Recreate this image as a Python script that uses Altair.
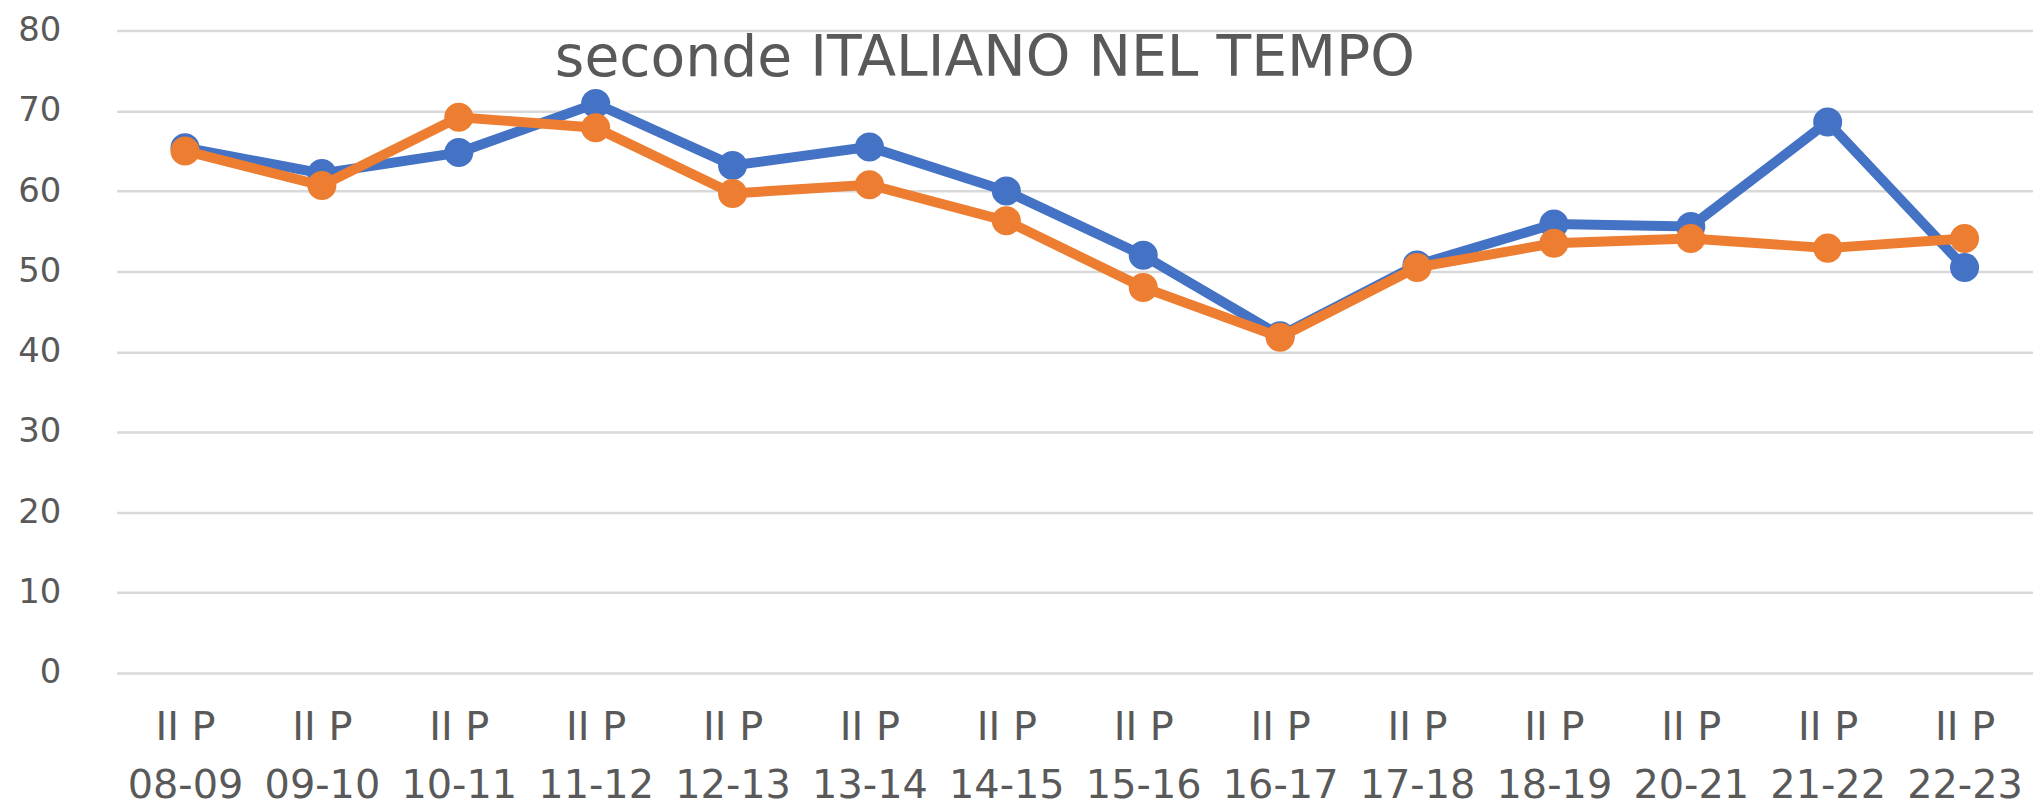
import altair as alt
import pandas as pd

# categories (two-line labels: period + school year)
periods = ["II P"] * 14
years = ["08-09", "09-10", "10-11", "11-12", "12-13", "13-14", "14-15",
         "15-16", "16-17", "17-18", "18-19", "20-21", "21-22", "22-23"]
categories = [f"{p} {y}" for p, y in zip(periods, years)]

# series values
blue_values = [65.4, 62.2, 64.8, 70.9, 63.2, 65.5, 60.0, 52.0, 42.0, 50.8, 55.9, 55.6, 68.6, 50.5]
orange_values = [65.0, 60.7, 69.2, 67.9, 59.7, 60.8, 56.3, 48.0, 41.8, 50.5, 53.5, 54.1, 52.9, 54.1]
series_names = ["Serie1", "Serie2"]
series_colors = ["#4472C4", "#ED7D31"]
y_ticks = [0, 10, 20, 30, 40, 50, 60, 70, 80]

rows = []
for s, vals in zip(series_names, [blue_values, orange_values]):
    for c, v in zip(categories, vals):
        rows.append({"cat": c, "val": v, "series": s})
df = pd.DataFrame(rows)

FONT = "DejaVu Sans"

x_enc = alt.X(
    "cat:N", sort=categories, title=None,
    axis=alt.Axis(
        labelAngle=0, domain=False, ticks=False, grid=False,
        labelFont=FONT, labelFontSize=40, labelColor="#595959",
        labelPadding=35, labelLineHeight=58,
        labelExpr="[slice(datum.value, 0, 4), slice(datum.value, 5)]",
    ),
)
y_enc = alt.Y(
    "val:Q", title=None,
    scale=alt.Scale(domain=[0, 80], nice=False, zero=True),
    axis=alt.Axis(
        values=y_ticks, domain=False, ticks=False, grid=True,
        gridColor="#d9d9d9", gridWidth=2.5,
        labelFont=FONT, labelFontSize=34, labelColor="#595959",
        labelPadding=56,
    ),
)
color_enc = alt.Color("series:N", scale=alt.Scale(domain=series_names, range=series_colors), legend=None)

layers = []
for s in series_names:
    layers.append(
        alt.Chart(df)
        .transform_filter(alt.datum.series == s)
        .mark_line(strokeWidth=10, point=alt.OverlayMarkDef(size=850, filled=True, opacity=1))
        .encode(x=x_enc, y=y_enc, color=color_enc)
    )

chart = (
    alt.layer(*layers)
    .properties(
        width=1924, height=645,
        autosize=alt.AutoSizeParams(type="none"),
        padding={"left": 109, "top": 21, "right": 0, "bottom": 132},
        title=alt.Title(
            "seconde ITALIANO NEL TEMPO", anchor="start", frame="group",
            dx=440, dy=120, offset=0, baseline="alphabetic",
            font=FONT, fontSize=57, fontWeight="normal", color="#595959",
        ),
        background="white",
    )
    .configure_view(stroke=None)
)

chart.save("out.html", embed_options={"renderer": "svg", "actions": False})
